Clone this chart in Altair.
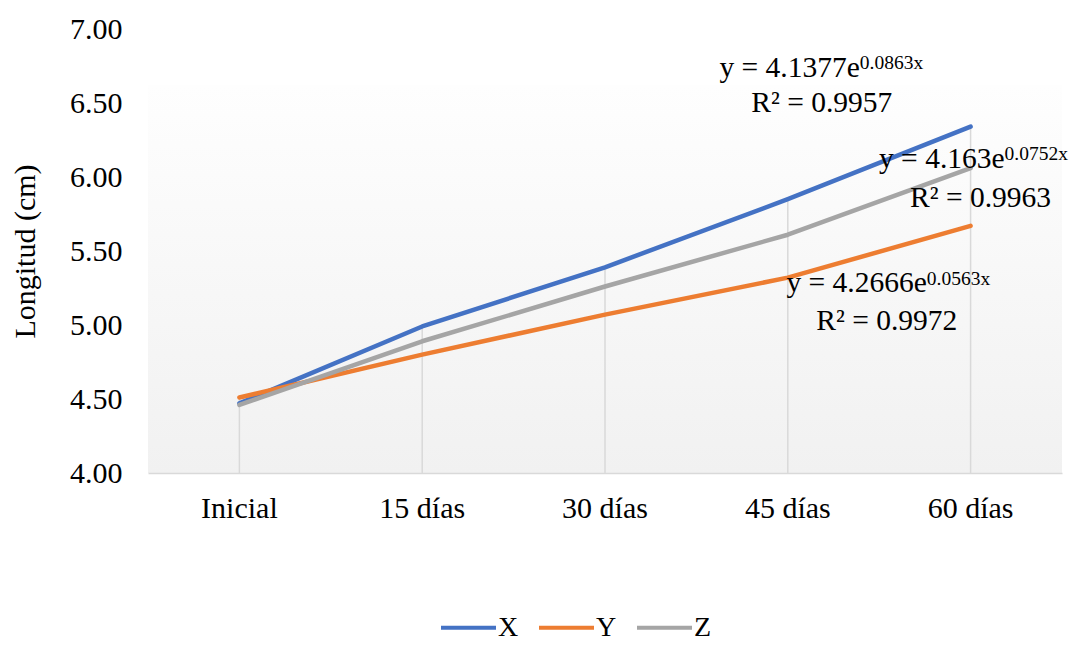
import altair as alt
import pandas as pd

# ---- data -------------------------------------------------------------
categories = ["Inicial", "15 días", "30 días", "45 días", "60 días"]
series_names = ["X", "Y", "Z"]
series_x = [4.47, 4.99, 5.39, 5.85, 6.34]
series_y = [4.51, 4.80, 5.07, 5.32, 5.67]
series_z = [4.46, 4.89, 5.26, 5.61, 6.06]
series_colors = ["#4472C4", "#ED7D31", "#A5A5A5"]
y_ticks = [4.0, 4.5, 5.0, 5.5, 6.0, 6.5, 7.0]

# trendline labels
eq_main = ["y = 4.1377e", "y = 4.163e", "y = 4.2666e"]
eq_sup = ["0.0863x", "0.0752x", "0.0563x"]
eq_r2 = ["R² = 0.9957", "R² = 0.9963", "R² = 0.9972"]
eq_anchor = ["45 días", "60 días", "45 días"]
eq_main_y = [6.676, 6.061, 5.223]
eq_sup_y = [6.727, 6.112, 5.270]
eq_r2_y = [6.439, 5.797, 4.966]
eq_main_dx = [72, 34, 139]
eq_r2_dx = [34, 10, 99]

plot_fill_top = 6.62
FONT = "'Times New Roman', 'Liberation Serif', 'DejaVu Serif', serif"

rows = []
for name, vals in zip(series_names, [series_x, series_y, series_z]):
    for c, v in zip(categories, vals):
        rows.append({"cat": c, "serie": name, "val": v})
df = pd.DataFrame(rows)

W, H = 914, 444


def xenc():
    return alt.X(
        "cat:N",
        scale=alt.Scale(domain=categories),
        axis=alt.Axis(
            title=None, labelAngle=0, ticks=False, grid=False,
            domainColor="#D9D9D9", domainWidth=1.5, labelPadding=20,
            labelFont=FONT, labelFontSize=30, labelColor="#000000", zindex=1,
        ),
    )


def yenc(field="val:Q"):
    return alt.Y(
        field,
        scale=alt.Scale(domain=[4, 7], nice=False, zero=False),
        axis=alt.Axis(
            values=y_ticks, format=".2f", ticks=False, grid=False, domain=False,
            labelPadding=26, labelFont=FONT, labelFontSize=30, labelColor="#000000",
            title="Longitud (cm)", titleFont=FONT, titleFontSize=30,
            titleFontWeight="normal", titleColor="#000000", titleAngle=-90,
            titleX=-123, titleY=222, titleAlign="center", titleBaseline="middle",
        ),
    )


grad = alt.Gradient(
    gradient="linear",
    stops=[alt.GradientStop(color="#FEFEFE", offset=0),
           alt.GradientStop(color="#F1F1F1", offset=1)],
    x1=0, x2=0, y1=0, y2=1,
)

background = alt.Chart(pd.DataFrame({"a": [0]})).mark_rect(fill=grad).encode(
    x=alt.value(0), x2=alt.value(W),
    y=alt.Y(datum=plot_fill_top, scale=alt.Scale(domain=[4, 7], nice=False, zero=False)),
    y2=alt.datum(4.0),
)

drops = alt.Chart(df).transform_aggregate(
    top="max(val)", groupby=["cat"]
).mark_rule(color="#D9D9D9", strokeWidth=1.5).encode(
    x=xenc(), y=yenc("top:Q"), y2=alt.datum(4.0)
)

lines = alt.Chart(df).mark_line(strokeWidth=4.5, strokeCap="round", strokeJoin="round").encode(
    x=xenc(),
    y=yenc(),
    color=alt.Color(
        "serie:N",
        scale=alt.Scale(domain=series_names, range=series_colors),
        legend=alt.Legend(
            title=None, orient="none", direction="horizontal",
            legendX=291, legendY=569, symbolType="stroke", symbolSize=3025,
            symbolStrokeWidth=4, labelFont=FONT, labelFontSize=28,
            labelColor="#000000", labelOffset=0, columnPadding=12,
        ),
    ),
)

texts = []
for i in range(3):
    base = pd.DataFrame({"cat": [eq_anchor[i]]})
    t_main = alt.Chart(base.assign(val=eq_main_y[i], t=eq_main[i])).mark_text(
        align="right", baseline="alphabetic", dx=eq_main_dx[i], font=FONT,
        fontSize=29.5, color="#000000").encode(x=xenc(), y=yenc(), text="t:N")
    t_sup = alt.Chart(base.assign(val=eq_sup_y[i], t=eq_sup[i])).mark_text(
        align="left", baseline="alphabetic", dx=eq_main_dx[i], font=FONT,
        fontSize=19.5, color="#000000").encode(x=xenc(), y=yenc(), text="t:N")
    t_r2 = alt.Chart(base.assign(val=eq_r2_y[i], t=eq_r2[i])).mark_text(
        align="center", baseline="alphabetic", dx=eq_r2_dx[i], font=FONT,
        fontSize=29.5, color="#000000").encode(x=xenc(), y=yenc(), text="t:N")
    texts += [t_main, t_sup, t_r2]

chart = alt.layer(background, drops, lines, *texts).properties(
    width=W, height=H,
    padding={"left": 140, "top": 21, "right": 9, "bottom": 171},
    autosize=alt.AutoSizeParams(type="none"),
).configure_view(stroke=None)

chart.save("out.html", embed_options={"renderer": "svg", "actions": False})
